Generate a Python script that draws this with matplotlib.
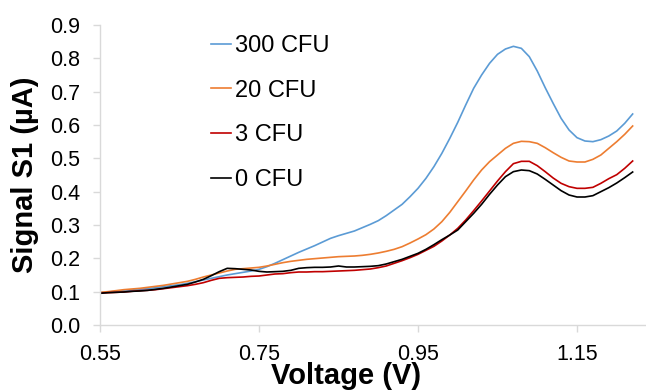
import matplotlib
matplotlib.use("Agg")
import matplotlib.pyplot as plt
import numpy as np

plt.rcParams["font.family"] = ["Liberation Sans", "DejaVu Sans"]

# voltage sweep, 0.01 V steps
voltage = np.round(np.arange(0.55, 1.2201, 0.01), 2)

cfu_300 = [0.097, 0.099, 0.101, 0.103, 0.105, 0.107, 0.109, 0.112, 0.115, 0.118,
           0.121, 0.125, 0.130, 0.135, 0.140, 0.145, 0.150, 0.154, 0.158, 0.162,
           0.167, 0.175, 0.185, 0.196, 0.207, 0.218, 0.228, 0.238, 0.249, 0.260,
           0.268, 0.275, 0.282, 0.292, 0.302, 0.313, 0.328, 0.345, 0.362, 0.385,
           0.410, 0.440, 0.475, 0.515, 0.560, 0.608, 0.660, 0.710, 0.750, 0.785,
           0.812, 0.828, 0.836, 0.830, 0.805, 0.762, 0.712, 0.665, 0.620, 0.585,
           0.562, 0.552, 0.550, 0.556, 0.567, 0.582, 0.605, 0.633]

cfu_20 = [0.098, 0.100, 0.103, 0.106, 0.108, 0.110, 0.113, 0.116, 0.119, 0.123,
          0.127, 0.131, 0.137, 0.144, 0.150, 0.156, 0.162, 0.167, 0.169, 0.171,
          0.173, 0.177, 0.182, 0.187, 0.191, 0.194, 0.197, 0.199, 0.201, 0.203,
          0.205, 0.206, 0.207, 0.209, 0.212, 0.216, 0.221, 0.227, 0.235, 0.246,
          0.258, 0.271, 0.288, 0.310, 0.338, 0.370, 0.402, 0.435, 0.465, 0.490,
          0.510, 0.530, 0.545, 0.551, 0.550, 0.545, 0.532, 0.517, 0.503, 0.492,
          0.489, 0.489, 0.497, 0.510, 0.530, 0.550, 0.572, 0.597]

cfu_3 = [0.096, 0.097, 0.098, 0.099, 0.101, 0.103, 0.104, 0.106, 0.109, 0.112,
         0.115, 0.118, 0.122, 0.127, 0.134, 0.140, 0.142, 0.143, 0.144, 0.146,
         0.147, 0.150, 0.153, 0.154, 0.157, 0.159, 0.159, 0.160, 0.160, 0.161,
         0.162, 0.163, 0.164, 0.166, 0.168, 0.172, 0.177, 0.185, 0.193, 0.202,
         0.212, 0.224, 0.236, 0.252, 0.270, 0.290, 0.315, 0.343, 0.372, 0.402,
         0.432, 0.460, 0.484, 0.491, 0.491, 0.478, 0.460, 0.441, 0.425, 0.415,
         0.410, 0.410, 0.413, 0.425, 0.439, 0.451, 0.470, 0.492]

cfu_0 = [0.095, 0.097, 0.098, 0.099, 0.101, 0.102, 0.104, 0.107, 0.110, 0.114,
         0.118, 0.122, 0.129, 0.137, 0.148, 0.160, 0.170, 0.169, 0.167, 0.165,
         0.161, 0.159, 0.160, 0.161, 0.164, 0.170, 0.172, 0.173, 0.173, 0.174,
         0.177, 0.174, 0.174, 0.175, 0.176, 0.178, 0.183, 0.190, 0.197, 0.206,
         0.215, 0.227, 0.241, 0.256, 0.270, 0.285, 0.310, 0.335, 0.362, 0.392,
         0.420, 0.445, 0.460, 0.465, 0.463, 0.453, 0.437, 0.420, 0.403, 0.390,
         0.384, 0.384, 0.388, 0.400, 0.412, 0.426, 0.442, 0.459]

labels = ["300 CFU", "20 CFU", "3 CFU", "0 CFU"]
colors = ["#5B9BD5", "#ED7D31", "#C00000", "#000000"]
x_ticks = [0.55, 0.75, 0.95, 1.15]
y_ticks = np.round(np.arange(0, 0.91, 0.1), 1)

fig = plt.figure(figsize=(6.46, 3.92), dpi=100)
ax = fig.add_axes([100 / 646, 67 / 392, 546 / 646, 300 / 392])

for series, label, color in zip([cfu_300, cfu_20, cfu_3, cfu_0], labels, colors):
    ax.plot(voltage, series, color=color, lw=1.2, label=label)

ax.set_xlim(0.55, 0.55 + 546 / 795)
ax.set_ylim(0, 0.9)
ax.set_xticks(x_ticks)
ax.set_xticklabels([f"{t:.2f}" for t in x_ticks])
ax.set_yticks(y_ticks)
ax.set_yticklabels([f"{t:.1f}" for t in y_ticks])

for side in ["top", "right"]:
    ax.spines[side].set_visible(False)
for side in ["left", "bottom"]:
    ax.spines[side].set_color("#D9D9D9")
    ax.spines[side].set_linewidth(1.0)
ax.tick_params(axis="both", direction="out", length=5, width=1.0, color="#D9D9D9",
               labelsize=15.5, pad=9)

ax.set_xlabel("Voltage (V)", fontsize=21, fontweight="bold")
ax.set_ylabel("Signal S1 (µA)", fontsize=21, fontweight="bold")
ax.xaxis.set_label_coords((346 - 100) / 546, -(376 - 325) / 300)
ax.yaxis.set_label_coords(-(100 - 25) / 546, 0.5)
ax.xaxis.label.set_va("center")
ax.yaxis.label.set_va("center")

ax.legend(loc="upper left", bbox_to_anchor=(211 / 646, 1 - 35 / 392),
          bbox_transform=fig.transFigure, frameon=False, fontsize=17,
          handlelength=0.85, handletextpad=0.15, labelspacing=0.96,
          borderpad=0, borderaxespad=0)

fig.savefig("out.png", dpi=100)
